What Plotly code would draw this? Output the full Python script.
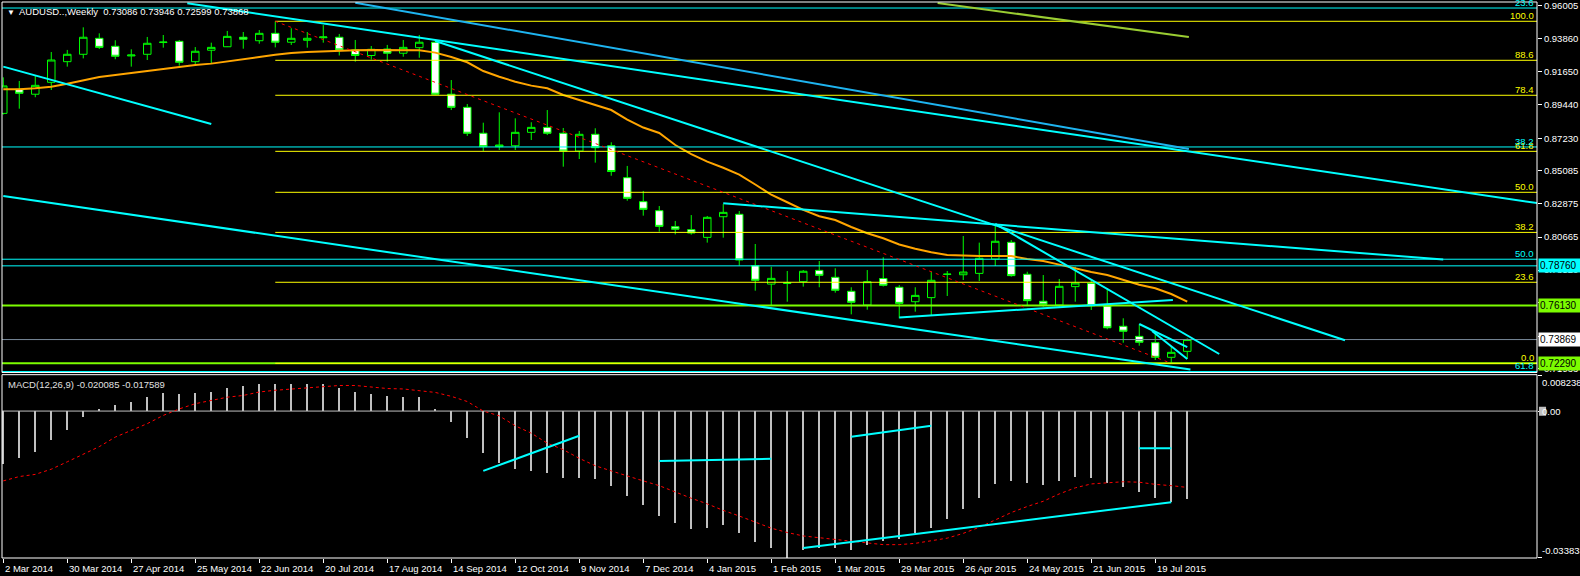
import plotly.graph_objects as go

# ---------------- data ----------------
bars = list(range(75))  # weekly bars, 2 Mar 2014 ... 2 Aug 2015

opens = [0.8888, 0.9048, 0.9015, 0.9094, 0.9231, 0.9280, 0.9386, 0.9333, 0.9269, 0.9280,
         0.9358, 0.9366, 0.9231, 0.9307, 0.9330, 0.9393, 0.9370, 0.9419, 0.9360, 0.9373,
         0.9390, 0.9393, 0.9309, 0.9272, 0.9315, 0.9287, 0.9324, 0.9360, 0.9015, 0.8928,
         0.8756, 0.8667, 0.8673, 0.8762, 0.8795, 0.8756, 0.8638, 0.8749, 0.8673, 0.8461,
         0.8302, 0.8242, 0.8136, 0.8116, 0.8065, 0.8202, 0.8218, 0.7877, 0.7755, 0.7764,
         0.7771, 0.7846, 0.7800, 0.7707, 0.7616, 0.7792, 0.7734, 0.7638, 0.7665, 0.7819,
         0.7817, 0.7826, 0.7921, 0.8032, 0.7820, 0.7641, 0.7616, 0.7738, 0.7760, 0.7609,
         0.7475, 0.7408, 0.7366, 0.7269, 0.73086]
highs = [0.9127, 0.9103, 0.9136, 0.9295, 0.9309, 0.9459, 0.9419, 0.9373, 0.9313, 0.9395,
         0.9408, 0.9375, 0.9328, 0.9357, 0.9435, 0.9428, 0.9441, 0.9499, 0.9453, 0.9428,
         0.9474, 0.9415, 0.9375, 0.9335, 0.9342, 0.9375, 0.9408, 0.9375, 0.9109, 0.8950,
         0.8826, 0.8895, 0.8855, 0.8829, 0.8910, 0.8791, 0.8771, 0.8789, 0.8696, 0.8539,
         0.8373, 0.8273, 0.8174, 0.8213, 0.8207, 0.8286, 0.8240, 0.8021, 0.7870, 0.7842,
         0.7848, 0.7908, 0.7860, 0.7734, 0.7848, 0.7933, 0.7749, 0.7734, 0.7837, 0.7842,
         0.8074, 0.8030, 0.8154, 0.8047, 0.7837, 0.7815, 0.7789, 0.7870, 0.7782, 0.7727,
         0.7528, 0.7488, 0.7444, 0.7339, 0.73946]
lows = [0.8880, 0.8919, 0.8995, 0.9043, 0.9198, 0.9253, 0.9315, 0.9247, 0.9198, 0.9242,
        0.9324, 0.9204, 0.9209, 0.9220, 0.9328, 0.9317, 0.9350, 0.9326, 0.9342, 0.9324,
        0.9357, 0.9272, 0.9231, 0.9245, 0.9231, 0.9264, 0.9257, 0.9010, 0.8910, 0.8738,
        0.8638, 0.8645, 0.8645, 0.8711, 0.8744, 0.8534, 0.8585, 0.8561, 0.8474, 0.8308,
        0.8209, 0.8103, 0.8085, 0.8083, 0.8030, 0.8063, 0.7877, 0.7711, 0.7609, 0.7638,
        0.7738, 0.7734, 0.7698, 0.7554, 0.7585, 0.7739, 0.7528, 0.7572, 0.7550, 0.7676,
        0.7782, 0.7775, 0.7875, 0.7804, 0.7609, 0.7605, 0.7605, 0.7638, 0.7583, 0.7455,
        0.7366, 0.7346, 0.7251, 0.7232, 0.72599]
closes = [0.9070, 0.9021, 0.9074, 0.9242, 0.9280, 0.9393, 0.9326, 0.9267, 0.9275, 0.9353,
          0.9361, 0.9227, 0.9300, 0.9326, 0.9399, 0.9380, 0.9419, 0.9360, 0.9386, 0.9386,
          0.9395, 0.9309, 0.9272, 0.9313, 0.9287, 0.9326, 0.9360, 0.9015, 0.8928, 0.8756,
          0.8667, 0.8678, 0.8762, 0.8795, 0.8756, 0.8638, 0.8749, 0.8660, 0.8502, 0.8324,
          0.8251, 0.8138, 0.8119, 0.8094, 0.8198, 0.8231, 0.7915, 0.7780, 0.7793, 0.7760,
          0.7840, 0.7813, 0.7714, 0.7634, 0.7771, 0.7747, 0.7627, 0.7680, 0.7780, 0.7821,
          0.7835, 0.7926, 0.8039, 0.7811, 0.7645, 0.7621, 0.7740, 0.7762, 0.7611, 0.7465,
          0.7442, 0.7369, 0.7269, 0.7302, 0.73868]
ma_line = [0.9048, 0.9048, 0.9054, 0.9065, 0.9085, 0.9107, 0.9129, 0.9143, 0.9156, 0.9169,
           0.9184, 0.9196, 0.9209, 0.9218, 0.9231, 0.9247, 0.9262, 0.9277, 0.9289, 0.9295,
           0.9300, 0.9304, 0.9306, 0.9309, 0.9309, 0.9309, 0.9306, 0.9291, 0.9262, 0.9227,
           0.9169, 0.9131, 0.9098, 0.9072, 0.9054, 0.9010, 0.8977, 0.8943, 0.8910, 0.8847,
           0.8794, 0.8758, 0.8678, 0.8618, 0.8568, 0.8527, 0.8482, 0.8416, 0.8348, 0.8298,
           0.8247, 0.8205, 0.8180, 0.8134, 0.8092, 0.8059, 0.8018, 0.7990, 0.7966, 0.7948,
           0.7943, 0.7941, 0.7941, 0.7941, 0.7921, 0.7908, 0.7884, 0.7857, 0.7835, 0.7815,
           0.7782, 0.7751, 0.7727, 0.7689, 0.7638]
macd_hist = [-0.0121, -0.0107, -0.0093, -0.0066, -0.0043, -0.0012, 0.0005, 0.0015, 0.0022, 0.0033,
             0.0042, 0.0040, 0.0042, 0.0045, 0.0054, 0.0059, 0.0063, 0.0063, 0.0063, 0.0063,
             0.0063, 0.0054, 0.0045, 0.0040, 0.0035, 0.0033, 0.0033, 0.0005, -0.0025, -0.0062,
             -0.0096, -0.0120, -0.0133, -0.0138, -0.0143, -0.0154, -0.0154, -0.0157, -0.0173, -0.0196,
             -0.0217, -0.0242, -0.0258, -0.0272, -0.0270, -0.0263, -0.0281, -0.0302, -0.0314, -0.0338,
             -0.0320, -0.0315, -0.0316, -0.0319, -0.0309, -0.0298, -0.0295, -0.0281, -0.0268, -0.0247,
             -0.0226, -0.0200, -0.0168, -0.0161, -0.0166, -0.0170, -0.0161, -0.0152, -0.0154, -0.0166,
             -0.0175, -0.0187, -0.0200, -0.0210, -0.0201]
macd_signal = [-0.0161, -0.0151, -0.0146, -0.0134, -0.0117, -0.0099, -0.0082, -0.0060, -0.0045, -0.0029,
               -0.0010, 0.0005, 0.0017, 0.0025, 0.0032, 0.0036, 0.0044, 0.0048, 0.0051, 0.0053,
               0.0057, 0.0059, 0.0059, 0.0056, 0.0052, 0.0051, 0.0047, 0.0043, 0.0034, 0.0022,
               0.0000, -0.0011, -0.0034, -0.0051, -0.0074, -0.0089, -0.0109, -0.0126, -0.0138, -0.0150,
               -0.0161, -0.0172, -0.0187, -0.0201, -0.0214, -0.0229, -0.0242, -0.0256, -0.0270, -0.0280,
               -0.0288, -0.0292, -0.0296, -0.0301, -0.0305, -0.0308, -0.0308, -0.0305, -0.0299, -0.0293,
               -0.0282, -0.0268, -0.0251, -0.0234, -0.0220, -0.0208, -0.0191, -0.0177, -0.0168, -0.0165,
               -0.0163, -0.0164, -0.0169, -0.0172, -0.0176]

tick_bars = [0, 4, 8, 12, 16, 20, 24, 28, 32, 36, 40, 44, 48, 52, 56, 60, 64, 68, 72]
tick_labels = ["2 Mar 2014", "30 Mar 2014", "27 Apr 2014", "25 May 2014", "22 Jun 2014",
               "20 Jul 2014", "17 Aug 2014", "14 Sep 2014", "12 Oct 2014", "9 Nov 2014",
               "7 Dec 2014", "4 Jan 2015", "1 Feb 2015", "1 Mar 2015", "29 Mar 2015",
               "26 Apr 2015", "24 May 2015", "21 Jun 2015", "19 Jul 2015"]
price_ticks = [0.96005, 0.93860, 0.91650, 0.89440, 0.87230, 0.85085, 0.82875, 0.80665,
               0.78475, 0.76300, 0.74100, 0.71933]
price_tick_labels = ["0.96005", "0.93860", "0.91650", "0.89440", "0.87230", "0.85085", "0.82875",
                     "0.80665", "0.78520", "0.76310", "0.74100", "0.71933"]
macd_ticks = [0.008238, 0.0, -0.033833]
macd_tick_labels = ["0.008238", "0.00", "-0.033833"]

# Fibonacci retracement (yellow): drawn from the week-17 high
fib_start_bar = 17
fib_levels = ["0.0", "23.6", "38.2", "50.0", "61.8", "78.4", "88.6", "100.0"]
fib_prices = [0.7229, 0.7767, 0.8098, 0.8364, 0.8636, 0.9008, 0.9240, 0.9499]
fib_anchor = [(17, 0.9499), (73, 0.7229)]
# Fibonacci levels (cyan, long-term)
fib2_levels = ["23.6", "38.2", "50.0", "61.8"]
fib2_prices = [0.9587, 0.8665, 0.7920, 0.7175]

# horizontal levels with price labels
hlines = [(0.7876, "0.78760", "#00FFFF", 1), (0.7613, "0.76130", "#7CFC00", 2),
          (0.73869, "0.73869", "#FFFFFF", 1), (0.7229, "0.72290", "#7CFC00", 2)]

# trend lines (bar, price) -> (bar, price)
cyan_lines = [((0.0, 0.9198), (13.0, 0.8817)),
              ((0.0, 0.8340), (74.2, 0.7188)),
              ((11.5, 0.9618), (95.9, 0.8292)),
              ((27.0, 0.9368), (83.86, 0.7382)),
              ((45.0, 0.8291), (90.0, 0.7918)),
              ((62.0, 0.8154), (76.0, 0.7291)),
              ((56.0, 0.7534), (73.1, 0.7649)),
              ((71.0, 0.7490), (74.0, 0.7337)),
              ((71.8, 0.7444), (74.0, 0.7258))]
blue_lines = [((22.0, 0.9622), (74.1, 0.8651))]
olive_lines = [((58.4, 0.9620), (74.1, 0.9395))]
macd_lines = [((30.0, -0.0138), (36.0, -0.0057)),
              ((41.0, -0.0115), (48.0, -0.0110)),
              ((53.0, -0.0059), (58.0, -0.0034)),
              ((71.0, -0.0086), (73.0, -0.0086)),
              ((50.0, -0.0316), (73.0, -0.0210))]

# ---------------- figure ----------------
FONT = "Liberation Sans, Arial, sans-serif"
FS = 9.5
X_RANGE = [-0.08, 95.86]
Y_RANGE = [0.71681, 0.96270]
Y2_RANGE = [-0.03388, 0.00839]
MAIN_DOM = [0.3336, 1.0]
MACD_DOM = [0.0, 0.3297]

fig = go.Figure()


def seg(p0, p1, color, width, yaxis="y", dash="solid"):
    fig.add_trace(go.Scatter(x=[p0[0], p1[0]], y=[p0[1], p1[1]], mode="lines",
                             line=dict(color=color, width=width, dash=dash),
                             yaxis=yaxis, hoverinfo="skip", showlegend=False))


fig.add_trace(go.Candlestick(
    x=bars, open=opens, high=highs, low=lows, close=closes,
    increasing=dict(line=dict(color="#00FF00", width=1), fillcolor="#000000"),
    decreasing=dict(line=dict(color="#00FF00", width=1), fillcolor="#FFFFFF"),
    whiskerwidth=0, showlegend=False, yaxis="y"))

fig.add_trace(go.Scatter(x=bars, y=ma_line, mode="lines", line=dict(color="#FFA500", width=2),
                         hoverinfo="skip", showlegend=False, yaxis="y"))

# horizontal lines
for price, lab, col, w in hlines:
    c = "#778899" if col == "#FFFFFF" else col
    seg((-1, price), (97, price), c, w)
for price in fib2_prices:
    seg((-1, price), (97, price), "#00FFFF", 1)
for price in fib_prices:
    seg((fib_start_bar, price), (97, price), "#FFFF00", 1)
seg(fib_anchor[0], fib_anchor[1], "#FF0000", 1, dash="3px,4px")

for a, b in cyan_lines:
    seg(a, b, "#00FFFF", 2)
for a, b in blue_lines:
    seg(a, b, "#1EB4F0", 2)
for a, b in olive_lines:
    seg(a, b, "#9ACD32", 2)

# MACD
fig.add_trace(go.Bar(x=bars, y=macd_hist, width=0.12, marker=dict(color="#C0C0C0", line=dict(width=0)),
                     yaxis="y2", hoverinfo="skip", showlegend=False))
seg((-1, 0), (97, 0), "#C0C0C0", 1, yaxis="y2")
fig.add_trace(go.Scatter(x=bars, y=macd_signal, mode="lines",
                         line=dict(color="#FF0000", width=1, dash="3px,3px"),
                         yaxis="y2", hoverinfo="skip", showlegend=False))
for a, b in macd_lines:
    seg(a, b, "#00FFFF", 2, yaxis="y2")

ann = []
# header
ann.append(dict(xref="paper", yref="paper", x=0.0, y=1.0, xanchor="left", yanchor="top",
                xshift=3, yshift=-4, text="▼", showarrow=False,
                font=dict(family=FONT, size=8, color="#FFFFFF")))
ann.append(dict(xref="paper", yref="paper", x=0.0, y=1.0, xanchor="left", yanchor="top",
                xshift=15, yshift=-2, showarrow=False,
                text="AUDUSD..,Weekly  0.73086 0.73946 0.72599 0.73868",
                font=dict(family=FONT, size=FS, color="#FFFFFF")))
ann.append(dict(xref="paper", yref="paper", x=0.0, y=MACD_DOM[1], xanchor="left", yanchor="top",
                xshift=4, yshift=-2, showarrow=False,
                text="MACD(12,26,9) -0.020085 -0.017589",
                font=dict(family=FONT, size=FS, color="#E0E0E0")))
# fib labels
for lab, price in zip(fib_levels, fib_prices):
    ann.append(dict(xref="x", yref="y", x=X_RANGE[1], y=price, xanchor="right", yanchor="bottom",
                    xshift=-1, yshift=-2, text=lab, showarrow=False,
                    font=dict(family=FONT, size=FS, color="#FFFF00")))
for lab, price in zip(fib2_levels, fib2_prices):
    ann.append(dict(xref="x", yref="y", x=X_RANGE[1], y=price, xanchor="right", yanchor="bottom",
                    xshift=-1, yshift=-2, text=lab, showarrow=False,
                    font=dict(family=FONT, size=FS, color="#00FFFF")))
# price boxes on the axis
for price, lab, col, w in hlines:
    ann.append(dict(xref="paper", yref="y", x=1.0, y=price, xanchor="left", yanchor="middle",
                    xshift=1, text=lab, showarrow=False, bgcolor=col, width=39, align="left",
                    borderpad=1, font=dict(family=FONT, size=FS + 0.5, color="#000000")))
# MACD axis labels
ann.append(dict(xref="paper", yref="y2", x=1.0, y=macd_ticks[0], xanchor="left", yanchor="top",
                xshift=3, text=macd_tick_labels[0], showarrow=False,
                font=dict(family=FONT, size=FS, color="#FFFFFF")))
ann.append(dict(xref="paper", yref="y2", x=1.0, y=macd_ticks[1], xanchor="left", yanchor="middle",
                xshift=3, text=macd_tick_labels[1], showarrow=False,
                font=dict(family=FONT, size=FS, color="#FFFFFF")))
ann.append(dict(xref="paper", yref="y2", x=1.0, y=macd_ticks[2], xanchor="left", yanchor="bottom",
                xshift=3, text=macd_tick_labels[2], showarrow=False,
                font=dict(family=FONT, size=FS, color="#FFFFFF")))
# time labels
for b, lab in zip(tick_bars, tick_labels):
    ann.append(dict(xref="x", yref="paper", x=b, y=0, xanchor="left", yanchor="top",
                    xshift=0, yshift=-3, text=lab, showarrow=False,
                    font=dict(family=FONT, size=FS, color="#FFFFFF")))

shapes = [
    dict(type="rect", xref="paper", yref="paper", x0=0, x1=1, y0=MAIN_DOM[0], y1=MAIN_DOM[1],
         line=dict(color="#FFFFFF", width=1), layer="above"),
    dict(type="rect", xref="paper", yref="paper", x0=0, x1=1, y0=MACD_DOM[0], y1=MACD_DOM[1],
         line=dict(color="#FFFFFF", width=1), layer="above"),
    # grey cursor mark behind the first digit of the MACD zero label
    dict(type="rect", xref="paper", yref="y2", x0=1.0013, x1=1.0059, y0=-0.0011, y1=0.0010,
         fillcolor="#C0C0C0", line=dict(width=0), layer="above"),
]

fig.update_layout(
    width=1580, height=576,
    margin=dict(l=2, r=43, t=2, b=18),
    paper_bgcolor="#000000", plot_bgcolor="#000000",
    showlegend=False, boxgap=0.33, bargap=0,
    annotations=ann, shapes=shapes,
    xaxis=dict(domain=[0, 1], range=X_RANGE, anchor="y2", showgrid=False, zeroline=False,
               rangeslider=dict(visible=False), tickmode="array", tickvals=tick_bars,
               showticklabels=False, ticks="outside", ticklen=4, tickcolor="#FFFFFF",
               showline=False, fixedrange=True),
    yaxis=dict(domain=MAIN_DOM, range=Y_RANGE, side="right", anchor="x", showgrid=False,
               zeroline=False, tickmode="array", tickvals=price_ticks, ticktext=price_tick_labels,
               ticks="outside", ticklen=4, tickcolor="#FFFFFF",
               tickfont=dict(family=FONT, size=FS, color="#FFFFFF"), automargin=False),
    yaxis2=dict(domain=MACD_DOM, range=Y2_RANGE, side="right", anchor="x", showgrid=False,
                zeroline=False, tickmode="array", tickvals=macd_ticks, showticklabels=False,
                ticks="outside", ticklen=4, tickcolor="#FFFFFF", automargin=False),
)

fig.write_html("out.html", config={"displayModeBar": False},
               post_script="document.body.style.margin='0';document.body.style.overflow='hidden';")
